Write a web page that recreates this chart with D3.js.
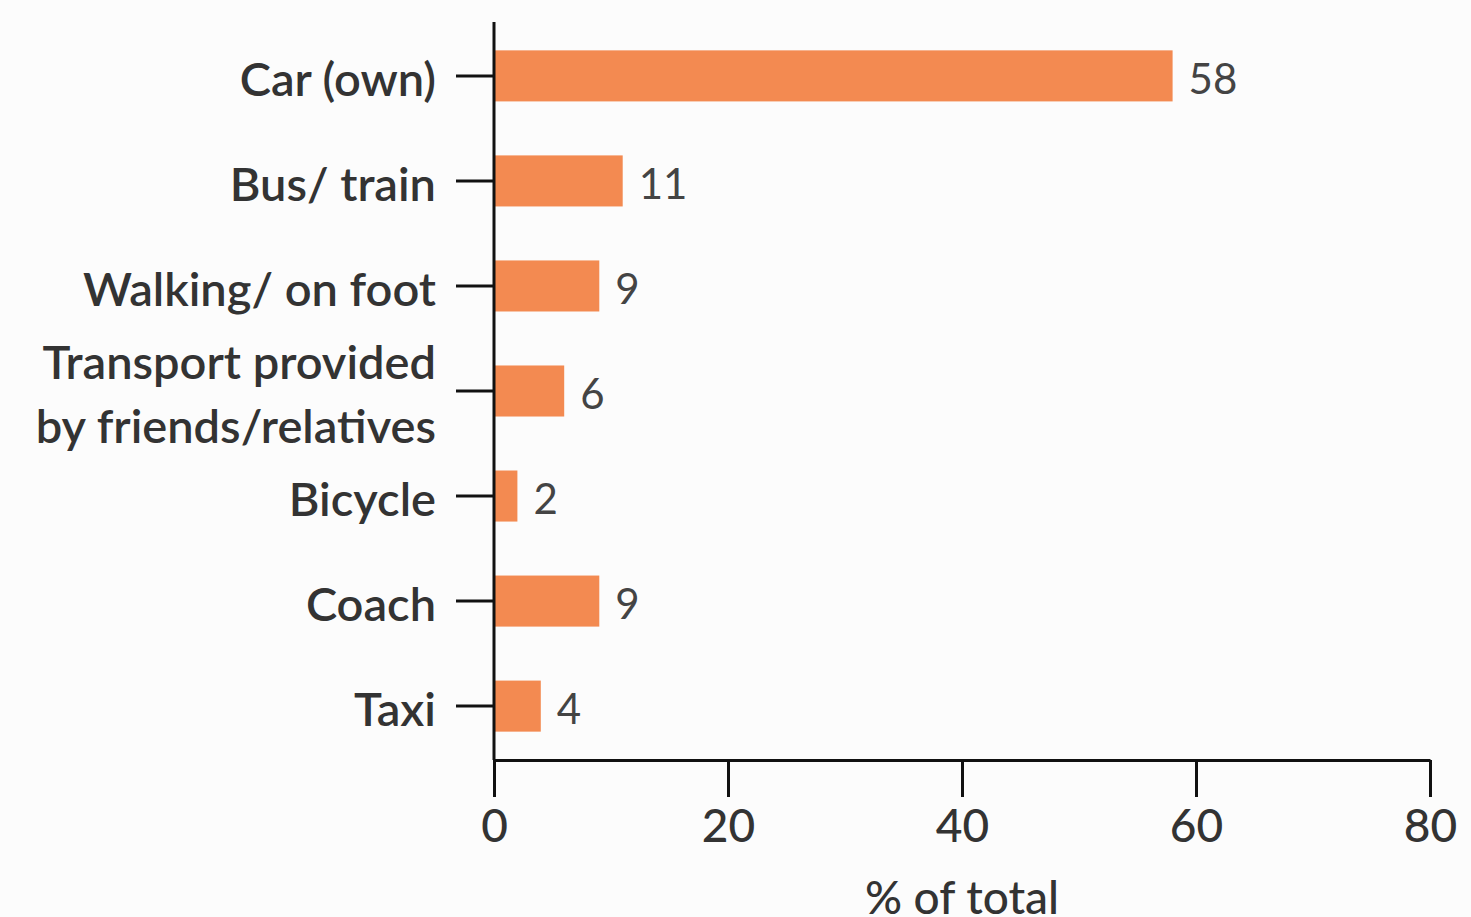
<!DOCTYPE html>
<html>
<head>
<meta charset="utf-8">
<script src="https://cdn.jsdelivr.net/npm/d3@7"></script>
<style>
  body { margin: 0; background: #fcfcfc; }
  svg { display: block; }
</style>
</head>
<body>
<div id="container"></div>
<script>
let w = 1471;
let h = 917;

// data
let categories = ["Car (own)", "Bus/ train", "Walking/ on foot", "Transport provided|by friends/relatives", "Bicycle", "Coach", "Taxi"];
let values = [58, 11, 9, 6, 2, 9, 4];
let xTicks = [0, 20, 40, 60, 80];
let xTitle = "% of total";

let plotLeft = 494;
let plotRight = 1430;
let plotTop = 22;
let plotBottom = 760;

let barColor = "#f38a51";
let textColor = "#333333";

let viz = d3.select("#container")
  .append("svg")
    .attr("width", w)
    .attr("height", h)
;

viz.append("rect").attr("width", w).attr("height", h).attr("fill", "#fcfcfc");

let xScale = d3.scaleLinear().domain([0, 80]).range([plotLeft, plotRight]);
let yScale = d3.scaleBand().domain(categories).range([plotTop, plotBottom]).paddingInner(0.514).paddingOuter(0.27);

// bars
viz.append("g").attr("class", "bars")
  .selectAll("rect")
  .data(values)
  .enter()
  .append("rect")
    .attr("x", xScale(0))
    .attr("y", function(d, i){ return yScale(categories[i]); })
    .attr("width", function(d){ return xScale(d) - xScale(0); })
    .attr("height", yScale.bandwidth())
    .attr("fill", barColor)
;

// value labels
viz.append("g").attr("class", "values")
  .selectAll("text")
  .data(values)
  .enter()
  .append("text")
    .text(function(d){ return d; })
    .attr("x", function(d){ return xScale(d) + 16; })
    .attr("y", function(d, i){ return yScale(categories[i]) + yScale.bandwidth() / 2; })
    .attr("dy", "0.42em")
    .attr("font-family", "Lato, sans-serif")
    .attr("font-size", 42)
    .attr("fill", "#444444")
;

// x axis
let xAxis = d3.axisBottom(xScale).tickValues(xTicks).tickSize(37).tickPadding(12).tickSizeOuter(0);
let xAxisGroup = viz.append("g").attr("class", "xaxis")
  .attr("transform", "translate(0," + plotBottom + ")")
  .call(xAxis);

// y axis
let yAxis = d3.axisLeft(yScale).tickSize(38).tickPadding(20).tickSizeOuter(0).tickFormat("");
let yAxisGroup = viz.append("g").attr("class", "yaxis")
  .attr("transform", "translate(" + plotLeft + ",0)")
  .call(yAxis);

// y axis line runs from top down to the x axis
yAxisGroup.select(".domain").attr("d", "M0," + plotTop + "V" + plotBottom);

viz.selectAll(".xaxis path, .xaxis line, .yaxis path, .yaxis line")
  .attr("stroke", "#111111")
  .attr("stroke-width", 3)
;

xAxisGroup.selectAll("text")
  .attr("font-family", "Lato, sans-serif")
  .attr("font-size", 46)
  .attr("font-weight", 500)
  .attr("fill", textColor)
;

// category labels, split on | for two-line labels
yAxisGroup.selectAll(".tick").each(function(d){
  let lines = d.split("|");
  let t = d3.select(this).append("text")
    .attr("x", -58)
    .attr("text-anchor", "end")
    .attr("font-family", "Lato, sans-serif")
    .attr("font-size", 47)
    .attr("font-weight", 600)
    .attr("fill", textColor)
  ;
  lines.forEach(function(line, i){
    t.append("tspan")
      .attr("x", -58)
      .attr("dy", i == 0 ? (0.42 - (lines.length - 1) * 0.68) + "em" : "1.36em")
      .text(line);
  });
});

// axis title
viz.append("text")
  .text(xTitle)
  .attr("x", (plotLeft + plotRight) / 2)
  .attr("y", 914)
  .attr("text-anchor", "middle")
  .attr("font-family", "Lato, sans-serif")
  .attr("font-size", 46)
  .attr("font-weight", 500)
  .attr("fill", textColor)
;
</script>
</body>
</html>
